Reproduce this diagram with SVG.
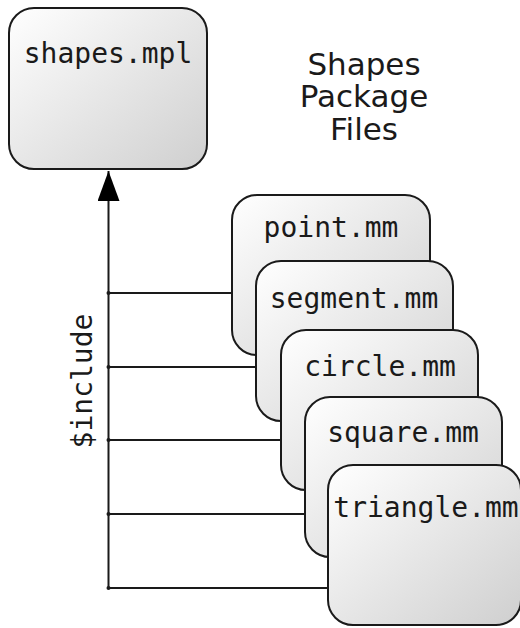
<svg xmlns="http://www.w3.org/2000/svg" width="520" height="628" viewBox="0 0 520 628">
<defs>
<linearGradient id="g" x1="0" y1="0" x2="1" y2="1">
<stop offset="0" stop-color="#ffffff"/>
<stop offset="1" stop-color="#cfcfcf"/>
</linearGradient>
<marker id="arr" markerUnits="userSpaceOnUse" markerWidth="30" markerHeight="22" refX="30" refY="11" orient="auto" viewBox="0 0 30 22">
<path d="M0,0 L30,11 L0,22 Z" fill="#000"/>
</marker>
</defs>
<style>
.box{fill:url(#g);stroke:#1a1a1a;stroke-width:2}
.mono{font-family:"DejaVu Sans Mono",monospace;font-size:28px;fill:#1a1a1a;text-anchor:middle}
.title{font-family:"DejaVu Sans",sans-serif;font-size:31px;fill:#1a1a1a;text-anchor:middle}
.ln{stroke:#1a1a1a;stroke-width:2;fill:none}
</style>
<rect width="520" height="628" fill="#fff"/>
<g id="connectors">
<line class="ln" x1="108.5" y1="588" x2="108.5" y2="171" marker-end="url(#arr)"/>
<line class="ln" x1="108.5" y1="293" x2="232" y2="293"/>
<line class="ln" x1="108.5" y1="367" x2="256" y2="367"/>
<line class="ln" x1="108.5" y1="440" x2="281" y2="440"/>
<line class="ln" x1="108.5" y1="514" x2="305" y2="514"/>
<line class="ln" x1="108.5" y1="588" x2="328" y2="588"/>
<circle cx="108.5" cy="293" r="2" fill="#1a1a1a"/>
<circle cx="108.5" cy="367" r="2" fill="#1a1a1a"/>
<circle cx="108.5" cy="440" r="2" fill="#1a1a1a"/>
<circle cx="108.5" cy="514" r="2" fill="#1a1a1a"/>
<circle cx="108.5" cy="588" r="2" fill="#1a1a1a"/>
<text class="mono" transform="translate(92,381) rotate(-90)">$include</text>
</g>
<g id="title">
<text class="title" x="364" y="75">Shapes</text>
<text class="title" x="364" y="107">Package</text>
<text class="title" x="364" y="140">Files</text>
</g>
<g id="shapes_mpl">
<rect class="box" x="9" y="8" width="198" height="161" rx="25"/>
<text class="mono" x="108" y="63">shapes.mpl</text>
</g>
<g id="point_mm">
<rect class="box" x="232" y="195" width="198" height="160" rx="25"/>
<text class="mono" x="331" y="237">point.mm</text>
</g>
<g id="segment_mm">
<rect class="box" x="256" y="261" width="197" height="160" rx="25"/>
<text class="mono" x="354" y="308">segment.mm</text>
</g>
<g id="circle_mm">
<rect class="box" x="281" y="330" width="197" height="160" rx="25"/>
<text class="mono" x="380" y="376">circle.mm</text>
</g>
<g id="square_mm">
<rect class="box" x="305" y="397" width="197" height="160" rx="25"/>
<text class="mono" x="403" y="442">square.mm</text>
</g>
<g id="triangle_mm">
<rect class="box" x="328" y="465" width="193" height="160" rx="25"/>
<text class="mono" x="426" y="517">triangle.mm</text>
</g>
</svg>
